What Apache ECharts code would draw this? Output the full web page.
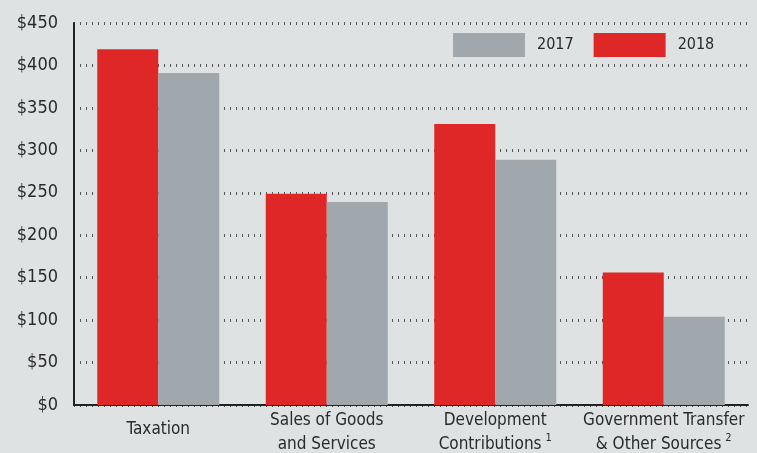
<!DOCTYPE html>
<html>
<head>
<meta charset="utf-8">
<script src="https://cdn.jsdelivr.net/npm/echarts@6/dist/echarts.min.js"></script>
<style>
  html, body { margin: 0; padding: 0; background: #dfe2e3; }
  #chart { width: 757px; height: 453px; }
</style>
</head>
<body>
<div id="chart"></div>
<script>
// revenue by source, millions
const categories = [
  '{one|Taxation}',
  'Sales of Goods\nand Services',
  'Development\nContributions{sup|1}',
  'Government Transfer\n& Other Sources{sup|2}'
];
const values2018 = [419, 249, 331, 156];
const values2017 = [391, 239, 289, 104];
const yTicks = { min: 0, max: 450, step: 50 };

const FONT = '"Liberation Sans Narrow", "DejaVu Sans Condensed", "Liberation Sans", sans-serif';
const RED = '#e02728';
const GRAY = '#a0a7ad';
const INK = '#2a2a2a';

const chart = echarts.init(document.getElementById('chart'));

chart.setOption({
  backgroundColor: '#dfe2e3',
  animation: false,
  textStyle: { fontFamily: FONT },
  legend: {
    data: ['2017', '2018'],
    left: 453,
    top: 33,
    padding: 0,
    itemWidth: 72,
    itemHeight: 24,
    itemGap: 20,
    icon: 'rect',
    textStyle: { fontFamily: FONT, fontSize: 16, color: INK, padding: [0, 0, 0, 7] }
  },
  grid: { left: 74, right: 9, top: 23, bottom: 48, outerBoundsMode: 'none', containLabel: false },
  xAxis: {
    type: 'category',
    data: categories,
    axisLine: { lineStyle: { color: '#222', width: 2 } },
    axisTick: { show: false },
    axisLabel: {
      interval: 0,
      margin: 4,
      fontFamily: FONT,
      fontSize: 17,
      lineHeight: 24,
      color: INK,
      rich: {
        one: { fontFamily: FONT, fontSize: 17, lineHeight: 42, color: INK },
        sup: { fontFamily: FONT, fontSize: 11, lineHeight: 24, verticalAlign: 'top', color: INK, padding: [0, 0, 0, 4] }
      }
    }
  },
  yAxis: {
    type: 'value',
    min: yTicks.min,
    max: yTicks.max,
    interval: yTicks.step,
    axisLine: { show: true, lineStyle: { color: '#222', width: 2 } },
    axisTick: { show: false },
    axisLabel: {
      margin: 16,
      fontFamily: FONT,
      fontSize: 18,
      color: INK,
      formatter: (v) => '$' + v
    },
    splitLine: {
      lineStyle: { color: '#555', width: 3, type: [1, 5] }
    }
  },
  series: [
    {
      name: '2018',
      type: 'bar',
      data: values2018,
      barWidth: 61,
      barGap: '0%',
      itemStyle: { color: RED }
    },
    {
      name: '2017',
      type: 'bar',
      data: values2017,
      barWidth: 61,
      barGap: '0%',
      itemStyle: { color: GRAY }
    }
  ]
});
</script>
</body>
</html>
